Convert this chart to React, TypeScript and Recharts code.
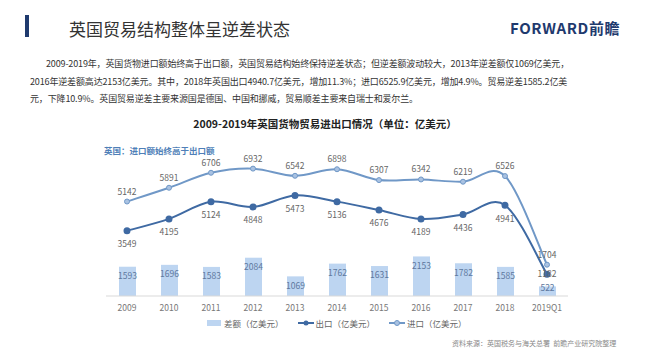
import React from "react";
import {
  ComposedChart,
  Bar,
  Line,
  XAxis,
  YAxis,
  LabelList,
} from "recharts";

const years = ["2009", "2010", "2011", "2012", "2013", "2014", "2015", "2016", "2017", "2018", "2019Q1"];
const exports = [3549, 4195, 5124, 4848, 5473, 5136, 4676, 4189, 4436, 4941, 1182];
const imports = [5142, 5891, 6706, 6932, 6542, 6898, 6307, 6342, 6219, 6526, 1704];
const gaps = [1593, 1696, 1583, 2084, 1069, 1762, 1631, 2153, 1782, 1585, 522];

const paragraph = [
  "2009-2019年，英国货物进口额始终高于出口额，英国贸易结构始终保持逆差状态；但逆差额波动较大，2013年逆差额仅1069亿美元，",
  "2016年逆差额高达2153亿美元。其中，2018年英国出口4940.7亿美元，增加11.3%；进口6525.9亿美元，增加4.9%。贸易逆差1585.2亿美",
  "元，下降10.9%。英国贸易逆差主要来源国是德国、中国和挪威，贸易顺差主要来自瑞士和爱尔兰。",
];

const data = years.map((y, i) => ({
  year: y,
  gap: gaps[i],
  exp: exports[i],
  imp: imports[i],
}));

const colors = {
  bar: "#bdd5f1",
  exp: "#3f6aa3",
  imp: "#7098c7",
  label: "#666",
  navy: "#1f3a6e",
};

const font = "'Noto Sans CJK SC', 'Noto Sans', sans-serif";

// Excel-like smoothed line (Catmull-Rom through the points)
const smoothCurve = (context: any) => {
  let pts: number[][] = [];
  return {
    areaStart() {},
    areaEnd() {},
    lineStart() {
      pts = [];
    },
    point(x: number, y: number) {
      pts.push([+x, +y]);
    },
    lineEnd() {
      if (!pts.length) return;
      context.moveTo(pts[0][0], pts[0][1]);
      for (let i = 0; i < pts.length - 1; i++) {
        const p0 = pts[i - 1] || pts[i];
        const p1 = pts[i];
        const p2 = pts[i + 1];
        const p3 = pts[i + 2] || pts[i + 1];
        context.bezierCurveTo(
          p1[0] + (p2[0] - p0[0]) / 6,
          p1[1] + (p2[1] - p0[1]) / 6,
          p2[0] - (p3[0] - p1[0]) / 6,
          p2[1] - (p3[1] - p1[1]) / 6,
          p2[0],
          p2[1]
        );
      }
    },
  };
};

const labelStyle = { fontSize: 8.5, fill: colors.label, fontFamily: font };

const ExpLabel = (props: any) => {
  const { x, y, value, index } = props;
  const last = index === exports.length - 1;
  return (
    <text x={x} y={last ? y + 0.5 : y + 14} textAnchor="middle" dominantBaseline="middle" {...labelStyle}>
      {value}
    </text>
  );
};

const BarLabel = (props: any) => {
  const { x, y, width, height, value } = props;
  const small = height < 12;
  return (
    <text
      x={x + width / 2}
      y={small ? y + 2.5 : y + 10}
      textAnchor="middle"
      dominantBaseline="middle"
      fontSize={8.5}
      fill="#5d789e"
      fontFamily={font}
    >
      {value}
    </text>
  );
};

export default function App() {
  return (
    <div
      style={{
        position: "absolute",
        left: 0,
        top: 0,
        width: 650,
        height: 358,
        background: "#fff",
        fontFamily: font,
        overflow: "hidden",
      }}
    >
      {/* header */}
      <div style={{ position: "absolute", left: 25, top: 15, width: 4, height: 22, background: colors.navy }} />
      <div style={{ position: "absolute", left: 69, top: 17, fontSize: 17, color: "#333", lineHeight: "24px" }}>
        英国贸易结构整体呈逆差状态
      </div>
      <div
        style={{
          position: "absolute",
          left: 510,
          top: 19,
          fontSize: 15,
          fontWeight: 700,
          color: colors.navy,
          lineHeight: "18px",
          letterSpacing: 0.6,
        }}
      >
        FORWARD前瞻
      </div>

      {/* paragraph */}
      {paragraph.map((t, i) => (
        <div
          key={i}
          style={{
            position: "absolute",
            left: i === 0 ? 46 : 30,
            top: 57 + i * 17.5,
            fontSize: 9,
            color: "#333",
            whiteSpace: "nowrap",
            lineHeight: "14px",
            letterSpacing: -0.15,
          }}
        >
          {t}
        </div>
      ))}

      {/* chart titles */}
      <div
        style={{
          position: "absolute",
          left: 0,
          width: 650,
          top: 116,
          textAlign: "center",
          fontSize: 10.5,
          fontWeight: 700,
          color: "#222",
          lineHeight: "16px",
        }}
      >
        2009-2019年英国货物贸易进出口情况（单位：亿美元）
      </div>
      <div
        style={{
          position: "absolute",
          left: 104,
          top: 143,
          fontSize: 8.5,
          fontWeight: 700,
          color: "#4f7fb8",
          lineHeight: "14px",
        }}
      >
        英国：进口额始终高于出口额
      </div>

      <div style={{ position: "absolute", left: 0, top: 0 }}>
        <ComposedChart
          width={650}
          height={358}
          data={data}
          margin={{ top: 149, right: 82, bottom: 34, left: 106 }}
        >
          <XAxis
            dataKey="year"
            height={28}
            tickLine={false}
            axisLine={{ stroke: "#d9d9d9" }}
            tick={{ fontSize: 8.5, fill: "#777", fontFamily: font }}
            tickMargin={3}
          />
          <YAxis hide domain={[0, 8000]} />
          <Bar dataKey="gap" fill={colors.bar} barSize={17} isAnimationActive={false}>
            <LabelList dataKey="gap" content={BarLabel} />
          </Bar>
          <Line
            type={smoothCurve as any}
            dataKey="exp"
            stroke={colors.exp}
            strokeWidth={2}
            dot={{ r: 2.5, fill: colors.exp, stroke: colors.exp }}
            isAnimationActive={false}
          >
            <LabelList dataKey="exp" content={ExpLabel} />
          </Line>
          <Line
            type={smoothCurve as any}
            dataKey="imp"
            stroke={colors.imp}
            strokeWidth={2}
            dot={{ r: 2.5, fill: "#a9c2e2", stroke: colors.imp, strokeWidth: 1 }}
            isAnimationActive={false}
          >
            <LabelList dataKey="imp" position="top" offset={7} style={labelStyle} />
          </Line>
        </ComposedChart>
      </div>

      {/* legend */}
      <div
        style={{
          position: "absolute",
          left: 207,
          top: 316,
          display: "flex",
          alignItems: "center",
          fontSize: 8.5,
          color: "#666",
          lineHeight: "14px",
          whiteSpace: "nowrap",
        }}
      >
        <span style={{ display: "inline-block", width: 14, height: 6, background: colors.bar, marginRight: 3 }} />
        <span style={{ marginRight: 14 }}>差额（亿美元）</span>
        <svg width={16} height={8} style={{ marginRight: 2 }}>
          <line x1={0} y1={4} x2={16} y2={4} stroke={colors.exp} strokeWidth={2} />
          <circle cx={8} cy={4} r={2.5} fill={colors.exp} />
        </svg>
        <span style={{ marginRight: 14 }}>出口（亿美元）</span>
        <svg width={16} height={8} style={{ marginRight: 2 }}>
          <line x1={0} y1={4} x2={16} y2={4} stroke={colors.imp} strokeWidth={2} />
          <circle cx={8} cy={4} r={2.5} fill="#a9c2e2" stroke={colors.imp} />
        </svg>
        <span>进口（亿美元）</span>
      </div>

      {/* source */}
      <div
        style={{
          position: "absolute",
          left: 452,
          top: 337,
          fontSize: 7,
          color: "#888",
          whiteSpace: "nowrap",
          lineHeight: "12px",
        }}
      >
        资料来源：英国税务与海关总署&nbsp;&nbsp;前瞻产业研究院整理
      </div>
    </div>
  );
}
